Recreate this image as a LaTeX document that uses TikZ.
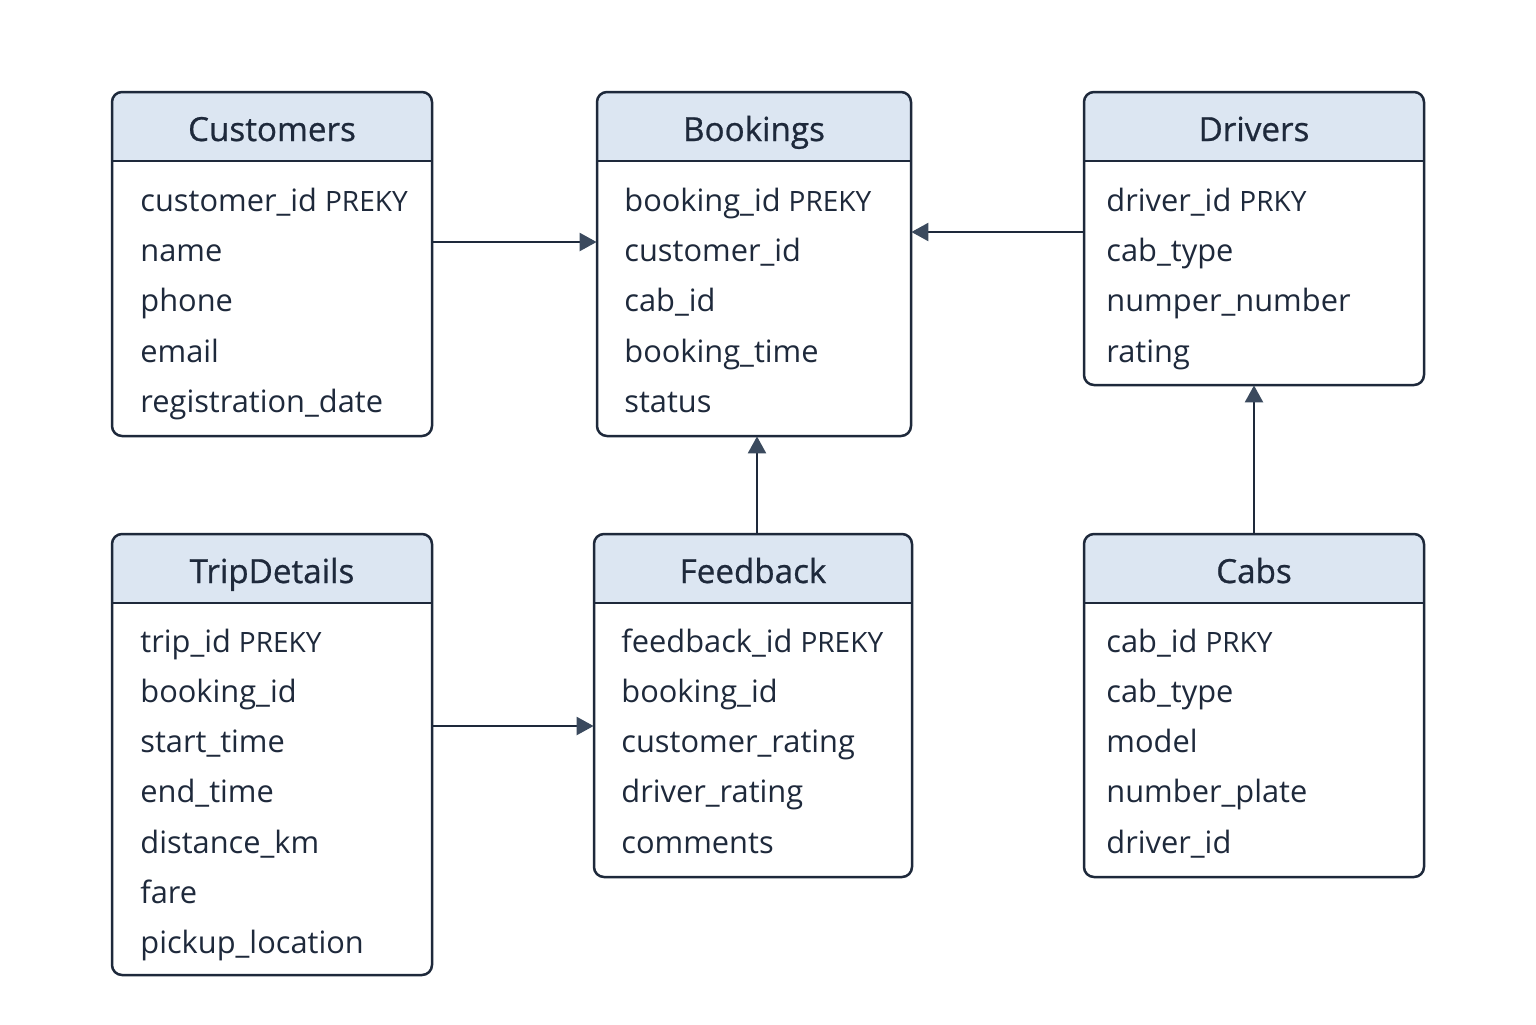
\documentclass[tikz,border=0pt]{standalone}
\usepackage{fontspec}
\setmainfont{Open Sans}
\usetikzlibrary{fit,arrows.meta}
\definecolor{ink}{HTML}{1E293B}
\definecolor{hdr}{HTML}{DCE6F2}
\definecolor{tip}{HTML}{3B4A5E}
\tikzset{
  x=0.5pt,y=-0.5pt,
  boxline/.style={draw=ink,line width=1.25pt,rounded corners=5pt},
  fld/.style={anchor=base west,inner sep=0pt,text=ink,font=\fontsize{15.4}{17}\selectfont},
  ttl/.style={anchor=base,inner sep=0pt,text=ink,font=\fontsize{16.6}{18}\selectfont\addfontfeature{FakeBold=0.7}},
  frame/.style={inner sep=0pt,draw=none},
  conn/.style={draw=ink,line width=1.2pt,-{Triangle[length=8.5pt,width=9pt,fill=tip,color=tip]}},
}
\newcommand{\pk}[1]{{\fontsize{14}{15}\selectfont #1}}
% name, x1, y1, x2, y2, title
\newcommand{\erbox}[6]{%
  \fill[hdr,rounded corners=5pt] (#2,#3) rectangle (#4,#3+69);
  \fill[hdr] (#2,#3+30) rectangle (#4,#3+69);
  \draw[ink,line width=1.25pt] (#2,#3+69) -- (#4,#3+69);
  \draw[boxline] (#2,#3) rectangle (#4,#5);
  \node[frame,fit={(#2,#3)(#4,#5)}] (#1) {};
  \node[ttl] (#1-t) at ({(#2+#4)/2},#3+49) {#6};
}
\begin{document}
\begin{tikzpicture}
\useasboundingbox (0,0) rectangle (1536,1024);
\fill[white] (0,0) rectangle (1536,1024);

\erbox{cust}{112}{92}{432}{436}{Customers}
\node[fld] (c1) at (140,211) {customer\_id \pk{PREKY}};
\node[fld] (c2) at (140,261) {name};
\node[fld] (c3) at (140,311) {phone};
\node[fld] (c4) at (140,362) {email};
\node[fld] (c5) at (140,412) {registration\_date};

\erbox{book}{597}{92}{911}{436}{Bookings}
\node[fld] (b1) at (624,211) {booking\_id \pk{PREKY}};
\node[fld] (b2) at (624,261) {customer\_id};
\node[fld] (b3) at (624,311) {cab\_id};
\node[fld] (b4) at (624,362) {booking\_time};
\node[fld] (b5) at (624,412) {status};

\erbox{drv}{1084}{92}{1424}{385}{Drivers}
\node[fld] (d1) at (1106,211) {driver\_id \pk{PRKY}};
\node[fld] (d2) at (1106,261) {cab\_type};
\node[fld] (d3) at (1106,311) {numper\_number};
\node[fld] (d4) at (1106,362) {rating};

\erbox{trip}{112}{534}{432}{975}{TripDetails}
\node[fld] (t1) at (140,652) {trip\_id \pk{PREKY}};
\node[fld] (t2) at (140,702) {booking\_id};
\node[fld] (t3) at (140,752) {start\_time};
\node[fld] (t4) at (140,802) {end\_time};
\node[fld] (t5) at (140,853) {distance\_km};
\node[fld] (t6) at (140,903) {fare};
\node[fld] (t7) at (140,953) {pickup\_location};

\erbox{fb}{594}{534}{912}{877}{Feedback}
\node[fld] (f1) at (621,652) {feedback\_id \pk{PREKY}};
\node[fld] (f2) at (621,702) {booking\_id};
\node[fld] (f3) at (621,752) {customer\_rating};
\node[fld] (f4) at (621,802) {driver\_rating};
\node[fld] (f5) at (621,853) {comments};

\erbox{cab}{1084}{534}{1424}{877}{Cabs}
\node[fld] (k1) at (1106,652) {cab\_id \pk{PRKY}};
\node[fld] (k2) at (1106,702) {cab\_type};
\node[fld] (k3) at (1106,752) {model};
\node[fld] (k4) at (1106,802) {number\_plate};
\node[fld] (k5) at (1106,853) {driver\_id};

\draw[conn] (cust.east |- 0,242) -- (book.west |- 0,242);
\draw[conn] (drv.west |- 0,232) -- (book.east |- 0,232);
\draw[conn] (fb.north -| 757,0) -- (book.south -| 757,0);
\draw[conn] (cab.north) -- (drv.south);
\draw[conn] (trip.east |- 0,726) -- (fb.west |- 0,726);
\end{tikzpicture}
\end{document}
